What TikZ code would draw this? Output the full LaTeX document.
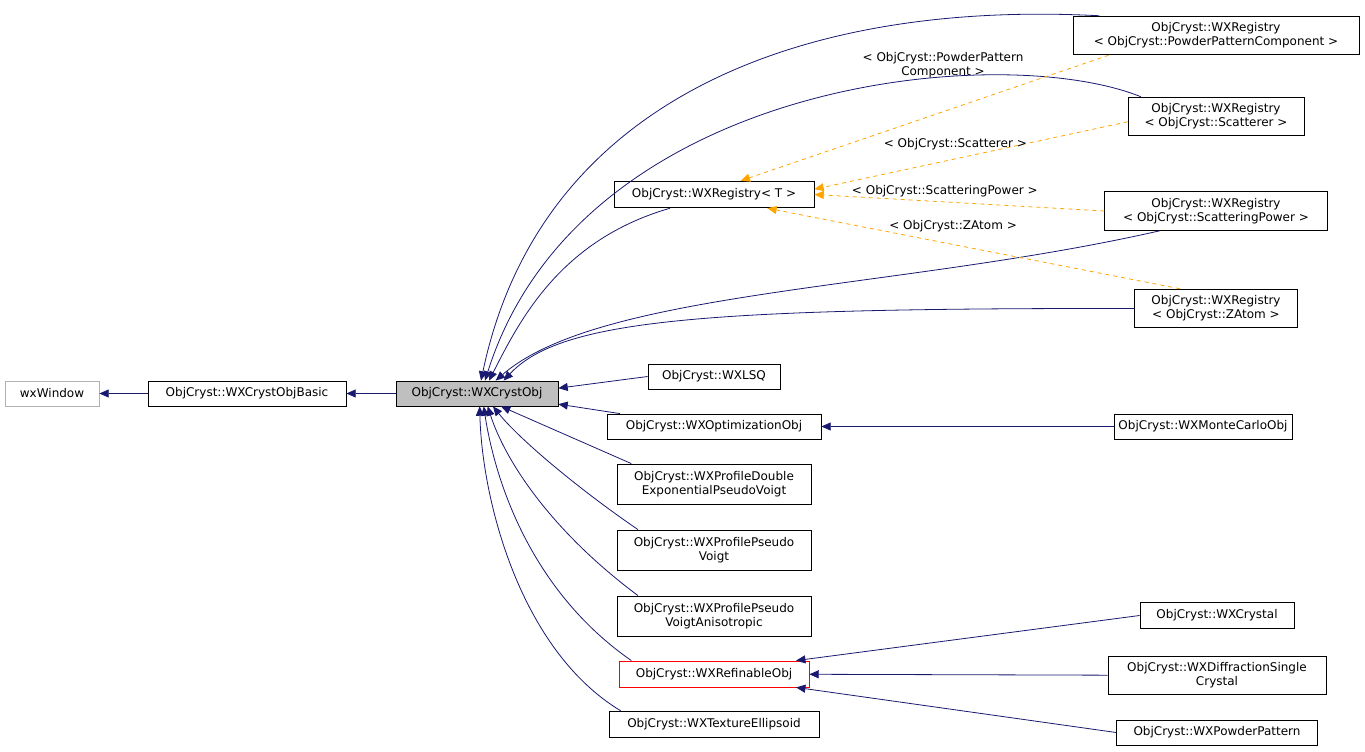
\documentclass[tikz,border=0pt]{standalone}
\usepackage{fontspec}
\setmainfont{DejaVu Sans}
\usetikzlibrary{arrows.meta}
\definecolor{navy}{RGB}{25,25,112}
\definecolor{tmpl}{RGB}{255,165,0}
\tikzset{
  cls/.style={draw, fill=white, align=center, inner sep=2pt, font=\fontsize{9}{10.5}\selectfont, line width=0.6pt},
  inh/.style={navy, line width=0.6pt, -{Triangle[length=7pt,width=6pt]}},
  inst/.style={tmpl, dashed, line width=0.6pt, -{Triangle[length=7pt,width=6pt]}},
  lbl/.style={text=black, font=\fontsize{9}{10.5}\selectfont, align=center}
}
\begin{document}
\begin{tikzpicture}[x=0.75pt, y=-0.75pt]
  \useasboundingbox (0,0) rectangle (1365,752);

  % base classes
  \node[cls, draw=gray!60, minimum width=70.5pt, minimum height=18.75pt] (wxw) at (52,393.5) {wxWindow};
  \node[cls, minimum width=148.5pt, minimum height=18.75pt] (basic) at (247,393.5) {ObjCryst::WXCrystObjBasic};
  \node[cls, fill=gray!50, minimum width=121.5pt, minimum height=18.75pt] (cobj) at (477,393.5) {ObjCryst::WXCrystObj};

  % registries
  \node[cls, minimum width=214.5pt, minimum height=29pt] (regppc) at (1216,35.5) {ObjCryst::WXRegistry\\\textless{} ObjCryst::PowderPatternComponent \textgreater};
  \node[cls, minimum width=132pt, minimum height=29pt] (regsc) at (1216,116.5) {ObjCryst::WXRegistry\\\textless{} ObjCryst::Scatterer \textgreater};
  \node[cls, minimum width=150pt, minimum height=20pt] (regt) at (714,194.5) {ObjCryst::WXRegistry\textless{} T \textgreater};
  \node[cls, minimum width=167pt, minimum height=29pt] (regsp) at (1216,211) {ObjCryst::WXRegistry\\\textless{} ObjCryst::ScatteringPower \textgreater};
  \node[cls, minimum width=122pt, minimum height=29pt] (regza) at (1216,308.5) {ObjCryst::WXRegistry\\\textless{} ObjCryst::ZAtom \textgreater};

  % derived classes
  \node[cls, minimum width=99pt, minimum height=18.75pt] (lsq) at (714,376.5) {ObjCryst::WXLSQ};
  \node[cls, minimum width=160.5pt, minimum height=18.75pt] (opt) at (714,426.5) {ObjCryst::WXOptimizationObj};
  \node[cls, minimum width=133.5pt, minimum height=18.75pt] (mc) at (1203,426.5) {ObjCryst::WXMonteCarloObj};
  \node[cls, minimum width=145.5pt, minimum height=30pt] (pdouble) at (714,484) {ObjCryst::WXProfileDouble\\ExponentialPseudoVoigt};
  \node[cls, minimum width=145.5pt, minimum height=30pt] (ppv) at (714,550) {ObjCryst::WXProfilePseudo\\Voigt};
  \node[cls, minimum width=145.5pt, minimum height=30pt] (ppva) at (714,616) {ObjCryst::WXProfilePseudo\\VoigtAnisotropic};
  \node[cls, draw=red, minimum width=142.5pt, minimum height=19.5pt] (refobj) at (714,674) {ObjCryst::WXRefinableObj};
  \node[cls, minimum width=157.5pt, minimum height=20pt] (tex) at (714,724.5) {ObjCryst::WXTextureEllipsoid};
  \node[cls, minimum width=115.5pt, minimum height=20pt] (cryst) at (1217,615.5) {ObjCryst::WXCrystal};
  \node[cls, minimum width=163.5pt, minimum height=29pt] (dsc) at (1217,675.5) {ObjCryst::WXDiffractionSingle\\Crystal};
  \node[cls, minimum width=150.75pt, minimum height=18.75pt] (pp) at (1217,732.5) {ObjCryst::WXPowderPattern};

  % inheritance
  \draw[inh] (basic) -- (wxw);
  \draw[inh] (cobj) -- (basic);
  \draw[inh] ([xshift=20pt]regppc.north west) .. controls (800,0) and (540,100) .. ([xshift=3pt]cobj.north);
  \draw[inh] ([xshift=10pt]regsc.north west) .. controls (1000,40) and (580,80) .. ([xshift=6pt]cobj.north);
  \draw[inh] ([xshift=-33pt]regt.south) .. controls (560,240) and (520,320) .. ([xshift=9pt]cobj.north);
  \draw[inh] ([xshift=-42pt]regsp.south) .. controls (900,290) and (600,290) .. ([xshift=14pt]cobj.north);
  \draw[inh] (regza.west) .. controls (700,308) and (560,320) .. ([xshift=20pt]cobj.north);
  \draw[inh] (lsq.west) -- ([yshift=4pt]cobj.east);
  \draw[inh] ([xshift=10pt]opt.north west) -- ([yshift=-8pt]cobj.east);
  \draw[inh] ([xshift=-62pt]pdouble.north) -- ([xshift=18pt]cobj.south);
  \draw[inh] ([xshift=-57pt]ppv.north) .. controls (580,490) and (520,440) .. ([xshift=12pt]cobj.south);
  \draw[inh] ([xshift=-57pt]ppva.north) .. controls (550,530) and (505,460) .. ([xshift=8pt]cobj.south);
  \draw[inh] ([xshift=-62pt]refobj.north) .. controls (530,590) and (495,480) .. ([xshift=5pt]cobj.south);
  \draw[inh] ([xshift=-70pt]tex.north) .. controls (520,650) and (482,500) .. ([xshift=2pt]cobj.south);
  \draw[inh] (mc) -- (opt);
  \draw[inh] (cryst.west) -- ([xshift=-10pt]refobj.north east);
  \draw[inh] (dsc) -- (refobj);
  \draw[inh] (pp.west) -- ([xshift=-10pt]refobj.south east);

  % template instances
  \draw[inst] ([xshift=27pt]regppc.south west) -- node[lbl, pos=0.45, above=22pt] {\textless{} ObjCryst::PowderPattern\\Component \textgreater} ([xshift=20pt]regt.north);
  \draw[inst] ([yshift=-4pt]regsc.west) -- node[lbl, pos=0.55, above=3pt] {\textless{} ObjCryst::Scatterer \textgreater} ([yshift=4pt]regt.east);
  \draw[inst] (regsp.west) -- node[lbl, pos=0.55, above=0pt] {\textless{} ObjCryst::ScatteringPower \textgreater} (regt.east);
  \draw[inst] ([xshift=-27pt]regza.north) -- node[lbl, pos=0.55, above=6pt] {\textless{} ObjCryst::ZAtom \textgreater} ([xshift=40pt]regt.south);
\end{tikzpicture}
\end{document}
